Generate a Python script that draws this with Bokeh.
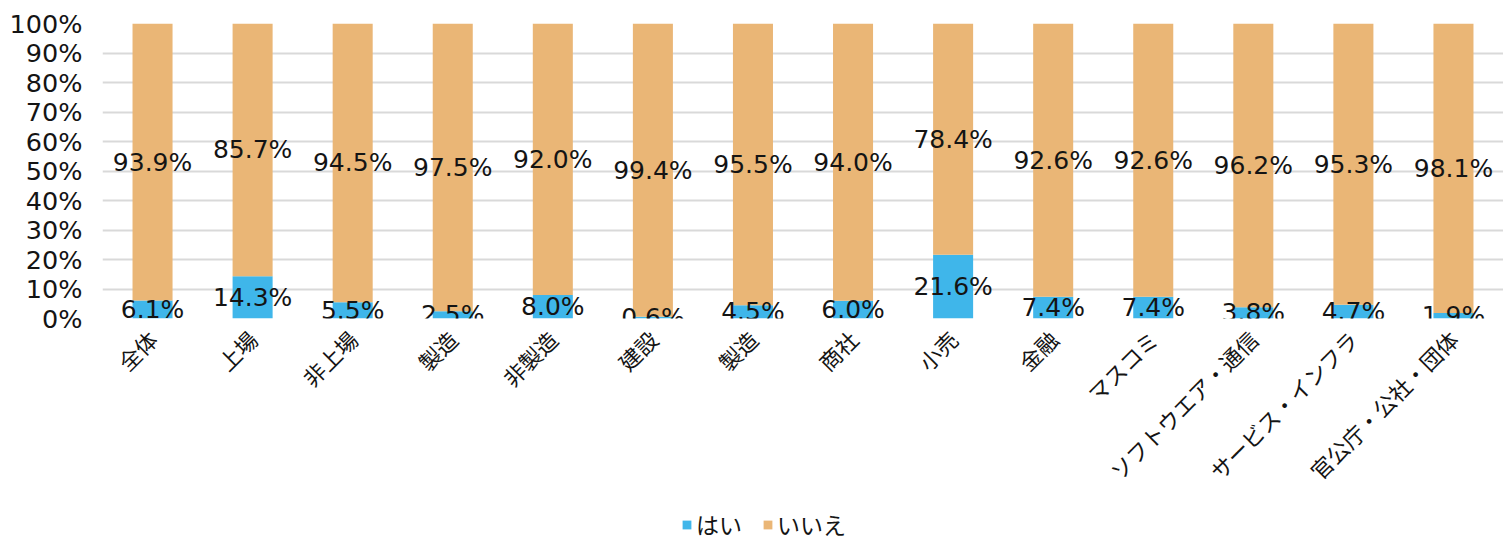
import math
from bokeh.plotting import figure
from bokeh.layouts import column
from bokeh.models import (ColumnDataSource, FixedTicker, PrintfTickFormatter, Range1d,
                          Legend, LegendItem)
from bokeh.core.properties import value
from bokeh.embed import file_html
from bokeh.resources import INLINE

categories = ["全体", "上場", "非上場", "製造", "非製造", "建設", "製造", "商社", "小売",
              "金融", "マスコミ", "ソフトウエア・通信", "サービス・インフラ", "官公庁・公社・団体"]
hai = [6.1, 14.3, 5.5, 2.5, 8.0, 0.6, 4.5, 6.0, 21.6, 7.4, 7.4, 3.8, 4.7, 1.9]
iie = [93.9, 85.7, 94.5, 97.5, 92.0, 99.4, 95.5, 94.0, 78.4, 92.6, 92.6, 96.2, 95.3, 98.1]
series_names = ["はい", "いいえ"]
y_ticks = [0, 10, 20, 30, 40, 50, 60, 70, 80, 90, 100]

CJK = "Noto Sans CJK JP"
NUM = "DejaVu Sans"
BLUE = "#3fb6ea"
ORANGE = "#eab676"
TXT = "#141414"

xs = list(range(len(categories)))
src = ColumnDataSource(dict(
    x=xs,
    hai=hai,
    iie=iie,
    hai_top=hai,
    iie_top=[h + i for h, i in zip(hai, iie)],
    hai_mid=[h / 2 for h in hai],
    iie_mid=[h + i / 2 for h, i in zip(hai, iie)],
    hai_lbl=[f"{v:.1f}%" for v in hai],
    iie_lbl=[f"{v:.1f}%" for v in iie],
))

p = figure(width=1503, height=500, output_backend="svg", toolbar_location=None,
           x_range=Range1d(-0.5, len(categories) - 0.5), y_range=Range1d(0, 100))
p.min_border_left = 102
p.min_border_right = 0
p.min_border_top = 23
p.min_border_bottom = 182
p.outline_line_color = None

p.vbar(x="x", bottom=0, top="hai_top", width=0.4, source=src,
       fill_color=BLUE, line_color=None)
p.vbar(x="x", bottom="hai_top", top="iie_top", width=0.4, source=src,
       fill_color=ORANGE, line_color=None)

for ycol, tcol in (("hai_mid", "hai_lbl"), ("iie_mid", "iie_lbl")):
    p.text(x="x", y=ycol, text=tcol, source=src, text_align="center",
           text_baseline="middle", text_font=value(NUM), text_font_size="25px",
           text_color=TXT)

p.yaxis.ticker = FixedTicker(ticks=y_ticks)
p.yaxis.formatter = PrintfTickFormatter(format="%d%%")
p.yaxis.axis_line_color = None
p.yaxis.major_tick_line_color = None
p.yaxis.minor_tick_line_color = None
p.yaxis.major_tick_out = 0
p.yaxis.major_tick_in = 0
p.yaxis.major_label_text_font = NUM
p.yaxis.major_label_text_font_size = "25.5px"
p.yaxis.major_label_text_color = TXT
p.yaxis.major_label_standoff = 20

p.xaxis.ticker = FixedTicker(ticks=xs)
p.xaxis.major_label_overrides = {i: c for i, c in enumerate(categories)}
p.xaxis.major_label_orientation = math.pi / 4
p.xaxis.axis_line_color = None
p.xaxis.major_tick_line_color = None
p.xaxis.minor_tick_line_color = None
p.xaxis.major_tick_out = 0
p.xaxis.major_tick_in = 0
p.xaxis.major_label_text_font = CJK
p.xaxis.major_label_text_font_size = "22px"
p.xaxis.major_label_text_color = TXT
p.xaxis.major_label_standoff = 16

p.xgrid.grid_line_color = None
p.ygrid.grid_line_color = "#d9d9d9"
p.ygrid.grid_line_width = 2

# legend strip below the chart
lg = figure(width=1503, height=43, output_backend="svg", toolbar_location=None,
            x_range=Range1d(-0.5, len(categories) - 0.5), y_range=Range1d(1000, 1001))
lg.min_border = 0
lg.axis.visible = False
lg.grid.visible = False
lg.outline_line_color = None
l1 = lg.vbar(x="x", bottom=0, top="hai_top", width=0.4, source=src,
             fill_color=BLUE, line_color=None)
l2 = lg.vbar(x="x", bottom="hai_top", top="iie_top", width=0.4, source=src,
             fill_color=ORANGE, line_color=None)
legend = Legend(items=[LegendItem(label=series_names[0], renderers=[l1]),
                       LegendItem(label=series_names[1], renderers=[l2])],
                orientation="horizontal", location=(579, 2),
                glyph_width=11, glyph_height=11, label_standoff=4, spacing=20,
                label_text_font=CJK, label_text_font_size="23px",
                label_text_color=TXT, border_line_color=None,
                background_fill_alpha=0, padding=0, margin=0)
lg.add_layout(legend, "center")

layout = column(p, lg, spacing=0)
open("out.html", "w").write(file_html(layout, INLINE))
